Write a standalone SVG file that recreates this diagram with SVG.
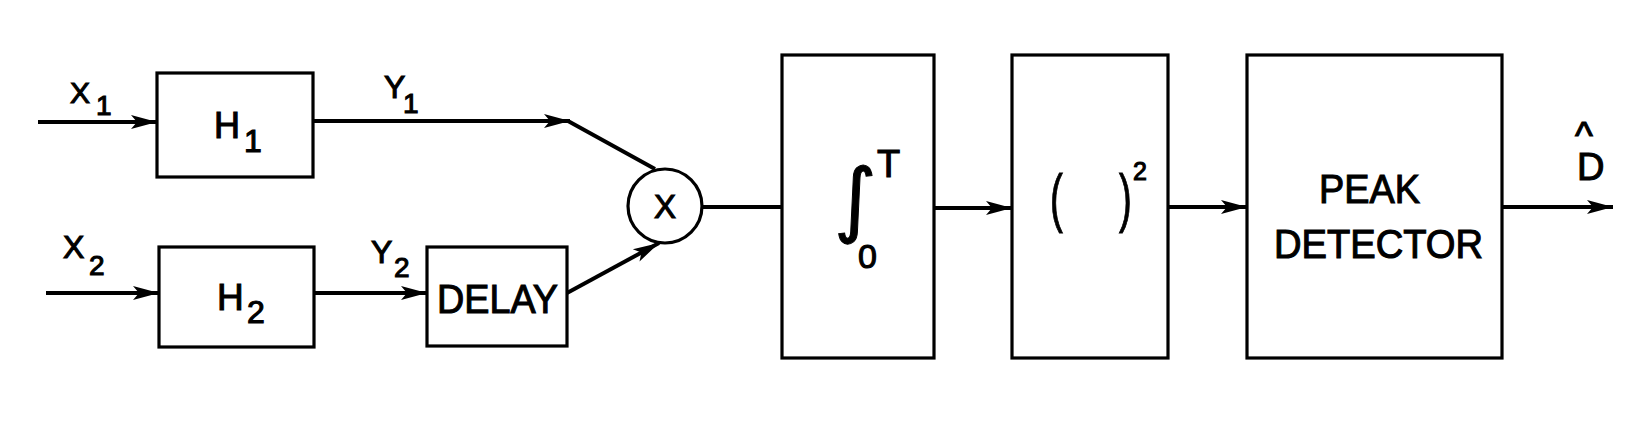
<svg xmlns="http://www.w3.org/2000/svg" width="1645" height="421" viewBox="0 0 1645 421">
<defs>
<marker id="arr" markerUnits="userSpaceOnUse" markerWidth="28" markerHeight="18" refX="26" refY="9" orient="auto">
<path d="M0,2 L26,9 L0,16 L6,9 z" fill="#000"/>
</marker>
<style>
.box{fill:#fff;stroke:#000;stroke-width:3.2}
.ln{fill:none;stroke:#000;stroke-width:4}
.t{font-family:"Liberation Sans",Arial,sans-serif;fill:#000;stroke:#000;stroke-width:1.1}
</style>
</defs>
<rect width="1645" height="421" fill="#fff"/>
<g id="connectors">
<line class="ln" x1="38" y1="122" x2="157" y2="122" marker-end="url(#arr)"/>
<line class="ln" x1="313" y1="121" x2="570" y2="121" marker-end="url(#arr)"/>
<line class="ln" x1="568" y1="121" x2="655" y2="169"/>
<line class="ln" x1="46" y1="293" x2="159" y2="293" marker-end="url(#arr)"/>
<line class="ln" x1="313" y1="293" x2="427" y2="293" marker-end="url(#arr)"/>
<line class="ln" x1="567" y1="293" x2="659" y2="243" marker-end="url(#arr)"/>
<line class="ln" x1="702" y1="207" x2="782" y2="207"/>
<line class="ln" x1="934" y1="208" x2="1012" y2="208" marker-end="url(#arr)"/>
<line class="ln" x1="1168" y1="207" x2="1247" y2="207" marker-end="url(#arr)"/>
<line class="ln" x1="1502" y1="207" x2="1613" y2="207" marker-end="url(#arr)"/>
</g>
<g id="labels">
<text class="t" x="70" y="103" font-size="30">X</text>
<text class="t" x="96" y="115" font-size="28">1</text>
<text class="t" x="384" y="98" font-size="32">Y</text>
<text class="t" x="403" y="113" font-size="28">1</text>
<text class="t" x="63" y="258" font-size="32">X</text>
<text class="t" x="89" y="275" font-size="28">2</text>
<text class="t" x="371" y="263" font-size="32">Y</text>
<text class="t" x="394" y="277" font-size="28">2</text>
<text class="t" x="1575" y="149" font-size="38">^</text>
<text class="t" x="1577" y="180" font-size="38">D</text>
</g>
<g id="h1">
<rect class="box" x="157" y="73" width="156" height="104"/>
<text class="t" x="214" y="138" font-size="36">H</text>
<text class="t" x="244" y="152" font-size="32">1</text>
</g>
<g id="h2">
<rect class="box" x="159" y="247" width="155" height="100"/>
<text class="t" x="217" y="310" font-size="37">H</text>
<text class="t" x="247" y="323" font-size="32">2</text>
</g>
<g id="delay">
<rect class="box" x="427" y="247" width="140" height="99"/>
<text class="t" x="437" y="313" font-size="41" textLength="121" lengthAdjust="spacingAndGlyphs">DELAY</text>
</g>
<g id="multiplier">
<circle cx="665" cy="206" r="37" fill="#fff" stroke="#000" stroke-width="3.2"/>
<text class="t" x="665" y="218" font-size="33" text-anchor="middle">X</text>
</g>
<g id="integrator">
<rect class="box" x="782" y="55" width="152" height="303"/>
<text x="834" y="227" font-size="82" font-family="DejaVu Sans,sans-serif" stroke="#000" stroke-width="1">∫</text>
<text class="t" x="877" y="177" font-size="38">T</text>
<text class="t" x="858" y="268" font-size="34">0</text>
</g>
<g id="square">
<rect class="box" x="1012" y="55" width="156" height="303"/>
<text class="t" x="1050" y="220" font-size="64" transform="translate(1050 0) scale(0.6 1) translate(-1050 0)">(</text>
<text class="t" x="1119" y="220" font-size="64" transform="translate(1119 0) scale(0.6 1) translate(-1119 0)">)</text>
<text class="t" x="1133" y="180" font-size="25">2</text>
</g>
<g id="peak">
<rect class="box" x="1247" y="55" width="255" height="303"/>
<text class="t" x="1319" y="203" font-size="41" textLength="101" lengthAdjust="spacingAndGlyphs">PEAK</text>
<text class="t" x="1274" y="258" font-size="40" textLength="209" lengthAdjust="spacingAndGlyphs">DETECTOR</text>
</g>
</svg>
